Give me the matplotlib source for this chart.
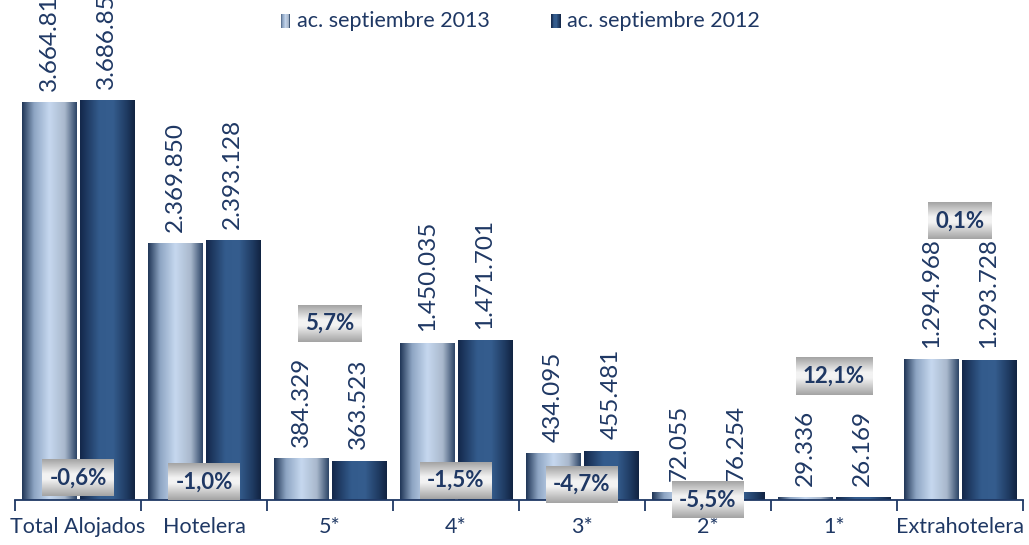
import matplotlib
matplotlib.use("Agg")
import matplotlib.pyplot as plt
import numpy as np
from matplotlib.colors import LinearSegmentedColormap
from matplotlib.legend_handler import HandlerBase
from matplotlib.patches import Rectangle

# Datos
categorias = ["Total Alojados", "Hotelera", "5*", "4*", "3*", "2*", "1*", "Extrahotelera"]
valores_2013 = [3664818, 2369850, 384329, 1450035, 434095, 72055, 29336, 1294968]
valores_2012 = [3686856, 2393128, 363523, 1471701, 455481, 76254, 26169, 1293728]
variacion = ["-0,6%", "-1,0%", "5,7%", "-1,5%", "-4,7%", "-5,5%", "12,1%", "0,1%"]
variacion_y = [203000, 166000, 1630000, 184000, 147000, 0, 1142000, 2570000]
series = ["ac. septiembre 2013", "ac. septiembre 2012"]

NAVY = "#1f3864"
plt.rcParams["font.family"] = ["Lato", "DejaVu Sans"]

cmap_2013 = LinearSegmentedColormap.from_list(
    "c13", [(0, "#1f3556"), (0.22, "#8ea5c3"), (0.5, "#c6d8ef"), (0.78, "#a9b8cc"), (1, "#2c4466")])
cmap_2012 = LinearSegmentedColormap.from_list(
    "c12", [(0, "#13274a"), (0.35, "#335b8c"), (0.6, "#355d8e"), (0.85, "#1f3b62"), (1, "#112341")])
cmap_box = LinearSegmentedColormap.from_list(
    "box", [(0, "#a3a3a3"), (0.45, "#f3f3f3"), (0.6, "#f3f3f3"), (1, "#a3a3a3")])


def gradient_bars(ax, bars, cmap):
    grad = np.linspace(0, 1, 256).reshape(1, -1)
    for b in bars:
        x, y = b.get_x(), b.get_y()
        w, h = b.get_width(), b.get_height()
        im = ax.imshow(grad, cmap=cmap, aspect="auto", extent=(x, x + w, y, y + h),
                       origin="lower", zorder=2, interpolation="bicubic")
        im.set_clip_path(b)
        b.set_facecolor("none")
        b.set_edgecolor("none")


class GradientHandler(HandlerBase):
    def __init__(self, cmap):
        super().__init__()
        self.cmap = cmap

    def create_artists(self, legend, orig_handle, xdescent, ydescent, width, height, fontsize, trans):
        n = 12
        w = 7.0
        h = 9.5
        x0 = width - w
        y0 = (height - h) / 2 - 1
        arts = []
        for i in range(n):
            r = Rectangle((x0 + i * w / n, y0), w / n + 0.05, h,
                          facecolor=self.cmap((i + 0.5) / n), edgecolor="none", transform=trans)
            arts.append(r)
        return arts


fig = plt.figure(figsize=(10.29, 5.45), dpi=100)
ax = fig.add_axes([15 / 1029, 45 / 545, 1008 / 1029, 500 / 545])

x = np.arange(len(categorias))
ancho = 0.43
off = 0.228
b13 = ax.bar(x - off, valores_2013, ancho, zorder=2)
b12 = ax.bar(x + off, valores_2012, ancho, zorder=2)
gradient_bars(ax, b13, cmap_2013)
gradient_bars(ax, b12, cmap_2012)

ax.set_xlim(-0.5, len(categorias) - 0.5)
ax.set_ylim(0, 4605000)


def fmt(v):
    return f"{v:,}".replace(",", ".")


for bars, vals in ((b13, valores_2013), (b12, valores_2012)):
    for b, v in zip(bars, vals):
        ax.annotate(fmt(v), (b.get_x() + b.get_width() / 2, v), xytext=(0, 8),
                    textcoords="offset points", rotation=90, ha="center", va="bottom",
                    fontsize=17.5, color=NAVY, annotation_clip=False, zorder=4)

# cajas de variacion (tamaño según el texto)
textos = []
for i, (txt, yv) in enumerate(zip(variacion, variacion_y)):
    t = ax.text(i, yv, txt, ha="center", va="center", fontsize=16, fontweight="bold",
                color=NAVY, zorder=6, clip_on=False)
    textos.append(t)

fig.canvas.draw()
renderer = fig.canvas.get_renderer()
inv = ax.transData.inverted()
grad_v = np.linspace(0, 1, 128).reshape(-1, 1)
for t in textos:
    bb = t.get_window_extent(renderer)
    cx, cy = (bb.x0 + bb.x1) / 2, (bb.y0 + bb.y1) / 2
    (x0, y0) = inv.transform((bb.x0 - 7, cy - 18.5))
    (x1, y1) = inv.transform((bb.x1 + 7, cy + 18.5))
    ax.imshow(grad_v, cmap=cmap_box, aspect="auto", extent=(x0, x1, y0, y1),
              origin="lower", zorder=5, interpolation="bicubic", clip_on=False)

ax.set_xlim(-0.5, len(categorias) - 0.5)
ax.set_ylim(0, 4605000)

for s in ("top", "right", "left"):
    ax.spines[s].set_visible(False)
ax.spines["bottom"].set_color(NAVY)
ax.spines["bottom"].set_linewidth(1.3)
ax.set_yticks([])
ax.set_xticks(x)
ax.set_xticklabels(categorias, fontsize=15.5, color=NAVY)
ax.tick_params(axis="x", which="major", length=0, pad=12)
ax.set_xticks(np.arange(len(categorias) + 1) - 0.5, minor=True)
ax.tick_params(axis="x", which="minor", length=8, width=1.3, color=NAVY, direction="out")

leg = fig.legend([b13[0], b12[0]], series, loc="upper center", bbox_to_anchor=(0.505, 1.015),
                 ncol=2, frameon=False, fontsize=15.5, labelcolor=NAVY,
                 handler_map={b13[0]: GradientHandler(cmap_2013), b12[0]: GradientHandler(cmap_2012)},
                 handlelength=0.5, handletextpad=0.3, columnspacing=2.8)

fig.savefig("out.png", dpi=100, facecolor="white")
